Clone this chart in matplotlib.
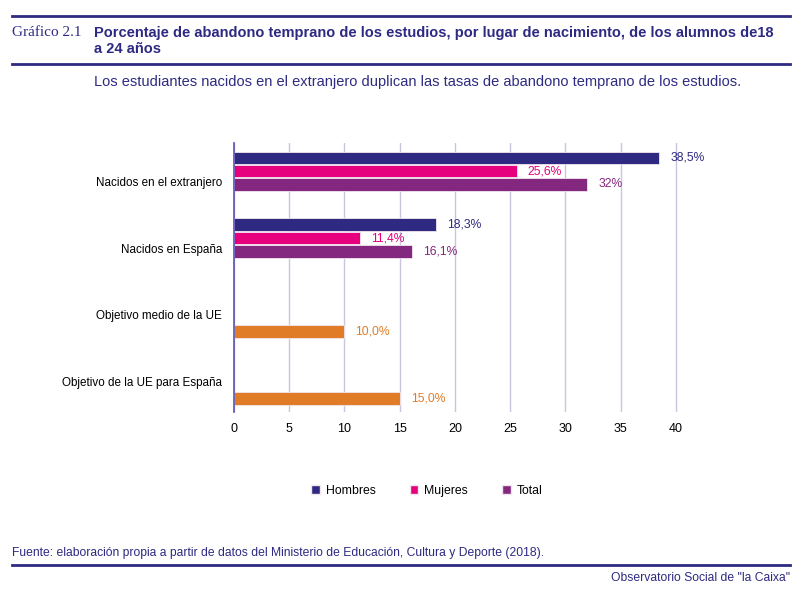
import matplotlib.pyplot as plt
import numpy as np
from matplotlib.lines import Line2D
from matplotlib.patches import Patch

categorias = [
    "Nacidos en el extranjero",
    "Nacidos en España",
    "Objetivo medio de la UE",
    "Objetivo de la UE para España",
]
hombres = [38.5, 18.3, None, None]
mujeres = [25.6, 11.4, None, None]
total = [32.0, 16.1, None, None]
objetivo = [None, None, 10.0, 15.0]

hombres_txt = ["38,5%", "18,3%", "", ""]
mujeres_txt = ["25,6%", "11,4%", "", ""]
total_txt = ["32%", "16,1%", "", ""]
objetivo_txt = ["", "", "10,0%", "15,0%"]

xticks = [0, 5, 10, 15, 20, 25, 30, 35, 40]

AZUL = "#2e2a82"
ROSA = "#e6007e"
MORADO = "#84287f"
NARANJA = "#e07c27"
GRID = "#c9c5df"

FONT = ["Liberation Sans", "DejaVu Sans"]
plt.rcParams["font.family"] = FONT

fig = plt.figure(figsize=(8, 5.91), dpi=100)
ax = fig.add_axes([0.2925, 0.303, 0.6075, 0.455])

series = [
    (hombres, hombres_txt, AZUL, "Hombres"),
    (mujeres, mujeres_txt, ROSA, "Mujeres"),
    (total, total_txt, MORADO, "Total"),
    (objetivo, objetivo_txt, NARANJA, "Objetivo"),
]
slot = 0.2
y = np.arange(len(categorias))
for k, (vals, txts, col, nom) in enumerate(series):
    off = (k - 1.5) * slot
    for i, (v, t) in enumerate(zip(vals, txts)):
        if v is None:
            continue
        ax.barh(y[i] + off, v, height=0.185, color=col,
                edgecolor="#f2e6ee", linewidth=0.6, zorder=3)
        ax.text(v + 1.0, y[i] + off, t, color=col, fontsize=8.7,
                va="center", ha="left")

ax.set_ylim(3.5, -0.52)
ax.set_xlim(0, 44)
ax.set_xticks(xticks)
ax.set_xticklabels([str(t) for t in xticks], fontsize=9)
ax.set_yticks(y + 0.05)
ax.set_yticklabels(categorias, fontsize=8.4)
ax.tick_params(length=0)
ax.tick_params(axis="y", pad=8.5)
ax.tick_params(axis="x", pad=8)
ax.grid(axis="x", color=GRID, linewidth=1, zorder=0)
for s in ["top", "right", "bottom"]:
    ax.spines[s].set_visible(False)
ax.spines["left"].set_color("#5a50b4")
ax.spines["left"].set_linewidth(1.2)
ax.spines["left"].set_zorder(4)

handles = [Patch(facecolor=c, edgecolor="#f2e6ee", label=n) for _, _, c, n in series[:3]]
fig.legend(handles=handles, loc="center", bbox_to_anchor=(427 / 800, 1 - 491 / 591),
           ncol=3, frameon=False, handlelength=0.7, handleheight=0.7,
           columnspacing=2.8, handletextpad=0.5, prop={"size": 8.8})

# cabecera y pie
def hline(ypx, lw=2):
    fig.add_artist(Line2D([12 / 800, 790 / 800], [1 - ypx / 591] * 2,
                          color=AZUL, linewidth=lw, transform=fig.transFigure))

hline(16)
hline(64)
hline(565)

fig.text(12 / 800, 1 - 33 / 591, "Gráfico 2.1", family=["Liberation Serif", "DejaVu Serif"],
         fontsize=11, color=AZUL, va="center")
fig.text(94 / 800, 1 - 33 / 591,
         "Porcentaje de abandono temprano de los estudios, por lugar de nacimiento, de los alumnos de18",
         fontsize=10.5, fontweight="bold", color=AZUL, va="center")
fig.text(94 / 800, 1 - 49 / 591, "a 24 años", fontsize=10.5, fontweight="bold",
         color=AZUL, va="center")
fig.text(94 / 800, 1 - 82 / 591,
         "Los estudiantes nacidos en el extranjero duplican las tasas de abandono temprano de los estudios.",
         fontsize=10.5, color=AZUL, va="center")

fig.text(12 / 800, 1 - 553 / 591,
         "Fuente: elaboración propia a partir de datos del Ministerio de Educación, Cultura y Deporte (2018).",
         fontsize=8.7, color=AZUL, va="center")
fig.text(790 / 800, 1 - 578 / 591, "Observatorio Social de \"la Caixa\"",
         fontsize=8.7, color=AZUL, va="center", ha="right")

fig.savefig("out.png", dpi=100)
